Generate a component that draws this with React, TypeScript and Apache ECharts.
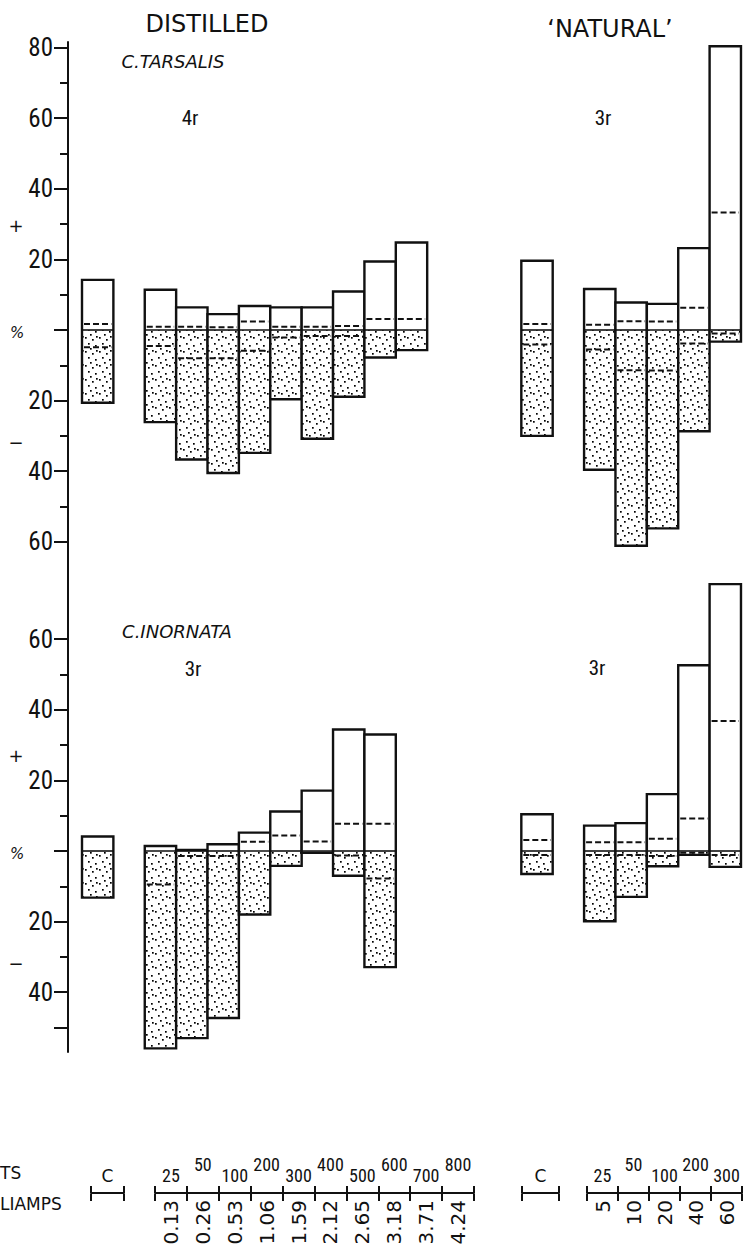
import React, { useEffect, useRef } from 'react';
import * as echarts from 'echarts';

// ---------- key (bottom scales) ----------
const controlLabel = ['C'];
const distilledVolts = ['25', '50', '100', '200', '300', '400', '500', '600', '700', '800'];
const distilledMilliamps = ['0.13', '0.26', '0.53', '1.06', '1.59', '2.12', '2.65', '3.18', '3.71', '4.24'];
const naturalVolts = ['25', '50', '100', '200', '300'];
const naturalMicroamps = ['5', '10', '20', '40', '60'];

// ---------- y axis ticks ----------
const yMajorTop = [80, 60, 40, 20, 0, -20, -40, -60];
const yMinorTop = [70, 50, 30, 10, -10, -30, -50];
const yLabelsTop = [80, 60, 40, 20, -20, -40, -60];
const yMajorBottom = [60, 40, 20, 0, -20, -40, -50];
const yMinorBottom = [50, 30, 10, -10, -30];
const yLabelsBottom = [60, 40, 20, -20, -40];

// ---------- C. tarsalis ----------
// distilled: control + 9 treatments
const tarsalisDistilledUp = [14.2, 11.4, 6.4, 4.5, 6.8, 6.4, 6.4, 10.9, 19.4, 24.8];
const tarsalisDistilledDown = [-20.6, -26.1, -36.7, -40.5, -34.8, -19.6, -30.8, -18.9, -7.8, -5.7];
const tarsalisDistilledUpMean = [1.7, 0.9, 0.9, 0.8, 2.4, 0.9, 0.9, 1.1, 3.1, 3.1];
const tarsalisDistilledDownMean = [-4.9, -4.5, -8.0, -8.0, -5.9, -2.1, -1.7, -1.7, null, null];
// natural: control + 5 treatments
const tarsalisNaturalUp = [19.6, 11.6, 7.8, 7.4, 23.2, 80.4];
const tarsalisNaturalDown = [-30.0, -39.6, -61.1, -56.2, -28.7, -3.3];
const tarsalisNaturalUpMean = [1.7, 1.5, 2.5, 2.4, 6.3, 33.3];
const tarsalisNaturalDownMean = [-4.1, -5.5, -11.4, -11.5, -3.8, -1.0];

// ---------- C. inornata ----------
const inornataDistilledUp = [4.1, 1.4, 0.3, 1.9, 5.2, 11.2, 17.1, 34.4, 33.0];
const inornataDistilledDown = [-13.2, -55.9, -53.0, -47.3, -18.0, -4.2, -0.5, -7.0, -32.9];
const inornataDistilledUpMean = [null, null, null, null, 2.6, 4.4, 2.7, 7.7, 7.7];
const inornataDistilledDownMean = [null, -9.5, -1.4, -1.4, null, null, null, -1.3, -7.8];
const inornataNaturalUp = [10.4, 7.2, 7.9, 16.1, 52.6, 75.6];
const inornataNaturalDown = [-6.5, -19.9, -13.0, -4.3, -1.1, -4.5];
const inornataNaturalUpMean = [3.1, 2.5, 2.5, 3.5, 9.2, 36.8];
const inornataNaturalDownMean = [-1.1, -1.1, -1.1, -1.4, -0.5, -1.1];

const NARROW = '"Liberation Sans Narrow", "Roboto Condensed", "Arial Narrow", "Liberation Sans", sans-serif';
const WIDE = '"DejaVu Sans", "Liberation Sans", sans-serif';
const INK = '#111';

type Row = { slot: number; up: number; down: number; upMean: number | null; downMean: number | null };

function buildRows(up: number[], down: number[], upMean: (number | null)[], downMean: (number | null)[], controlSlot: number): Row[] {
  return up.map((u, i) => ({
    slot: i === 0 ? controlSlot : controlSlot + 1 + i,
    up: u,
    down: down[i],
    upMean: upMean[i],
    downMean: downMean[i],
  }));
}

function makeStipple() {
  const size = 14;
  const c = document.createElement('canvas');
  c.width = size;
  c.height = size;
  const g = c.getContext('2d')!;
  g.fillStyle = '#ffffff';
  g.fillRect(0, 0, size, size);
  g.fillStyle = '#000000';
  const dots = [[1, 1], [8, 3], [4, 7], [11, 9], [6, 12], [12, 0]];
  dots.forEach(([x, y]) => g.fillRect(x, y, 1.7, 1.7));
  return { image: c.toDataURL(), repeat: 'repeat', imageWidth: size, imageHeight: size };
}

function barSeries(rows: Row[], xAxisIndex: number, yAxisIndex: number, stipple: any) {
  return {
    type: 'custom',
    xAxisIndex,
    yAxisIndex,
    clip: false,
    silent: true,
    data: rows.map((r) => [r.slot, r.up, r.down]),
    encode: { x: 0, y: [1, 2] },
    renderItem: (params: any, api: any) => {
      const r = rows[params.dataIndex];
      const [x0, y0] = api.coord([r.slot, 0]);
      const [x1] = api.coord([r.slot + 1, 0]);
      const yUp = api.coord([r.slot, r.up])[1];
      const yDown = api.coord([r.slot, r.down])[1];
      const w = x1 - x0;
      const children: any[] = [
        { type: 'rect', shape: { x: x0, y: yUp, width: w, height: y0 - yUp }, style: { fill: '#fff' } },
        { type: 'rect', shape: { x: x0, y: y0, width: w, height: yDown - y0 }, style: { fill: stipple } },
        { type: 'line', shape: { x1: x0, y1: y0, x2: x1, y2: y0 }, style: { stroke: INK, lineWidth: 1.6 } },
      ];
      [r.upMean, r.downMean].forEach((m) => {
        if (m === null || m === undefined) return;
        const ym = api.coord([r.slot, m])[1];
        children.push({
          type: 'line',
          shape: { x1: x0 + 2, y1: ym, x2: x1 - 2, y2: ym },
          style: { stroke: INK, lineWidth: 2, lineDash: [6, 3] },
        });
      });
      children.push({
        type: 'rect',
        shape: { x: x0, y: yUp, width: w, height: yDown - yUp },
        style: { fill: 'none', stroke: INK, lineWidth: 2.4 },
      });
      return { type: 'group', children };
    },
  };
}

const K = 3.53; // px per percent
const ORIGIN_X = 82;
const SLOT = 31.38;

function keyAxes(gridIndex: number, top: string[], bottom: string[] | null) {
  const topAxis: any = {
    type: 'category',
    gridIndex,
    position: 'top',
    data: top,
    boundaryGap: true,
    axisLine: { show: true, onZero: false, lineStyle: { color: INK, width: 2 } },
    axisTick: { show: true, alignWithLabel: false, interval: 0, length: 7, lineStyle: { color: INK, width: 2 } },
    axisLabel: {
      show: true,
      interval: 0,
      margin: 9,
      color: INK,
      formatter: (v: string, i: number) => (top.length > 1 && i % 2 === 1 ? `{hi|${v}}` : `{lo|${v}}`),
      rich: {
        lo: { fontFamily: top.length > 1 ? NARROW : WIDE, fontSize: top.length > 1 ? 18 : 17, color: INK },
        hi: { fontFamily: NARROW, fontSize: 18, color: INK, padding: [0, 0, 11, 0] },
      },
    },
  };
  const bottomAxis: any = {
    type: 'category',
    gridIndex,
    position: 'bottom',
    data: bottom ?? top,
    boundaryGap: true,
    axisLine: { show: false, onZero: false },
    axisTick: { show: true, alignWithLabel: false, interval: 0, length: 7, lineStyle: { color: INK, width: 2 } },
    axisLabel: {
      show: bottom !== null,
      interval: 0,
      rotate: 90,
      margin: 6,
      color: INK,
      fontFamily: WIDE,
      fontSize: 20,
    },
  };
  return [topAxis, bottomAxis];
}

export default function App() {
  const ref = useRef<HTMLDivElement>(null);

  useEffect(() => {
    if (!ref.current) return;
    const chart = echarts.init(ref.current, undefined, { renderer: 'svg' });
    const stipple = makeStipple();

    const tarsalisDistilled = buildRows(tarsalisDistilledUp, tarsalisDistilledDown, tarsalisDistilledUpMean, tarsalisDistilledDownMean, 0);
    const tarsalisNatural = buildRows(tarsalisNaturalUp, tarsalisNaturalDown, tarsalisNaturalUpMean, tarsalisNaturalDownMean, 14);
    const inornataDistilled = buildRows(inornataDistilledUp, inornataDistilledDown, inornataDistilledUpMean, inornataDistilledDownMean, 0);
    const inornataNatural = buildRows(inornataNaturalUp, inornataNaturalDown, inornataNaturalUpMean, inornataNaturalDownMean, 14);

    const tickStyle = { color: INK, width: 2 };
    const yLabel = {
      color: INK,
      fontFamily: NARROW,
      fontSize: 25,
      margin: 15,
      formatter: (v: number) => String(Math.abs(v)),
    };

    const panelY = (gridIndex: number, major: number[], minor: number[], labels: number[], min: number, max: number) => [
      {
        type: 'value', gridIndex, position: 'left', offset: ORIGIN_X - 68, min, max,
        axisLine: { show: false, onZero: false },
        splitLine: { show: false },
        axisTick: { show: true, length: 14, lineStyle: tickStyle, customValues: major },
        axisLabel: { ...yLabel, customValues: labels },
      },
      {
        type: 'value', gridIndex, position: 'left', offset: ORIGIN_X - 68, min, max,
        axisLine: { show: false, onZero: false },
        splitLine: { show: false },
        axisTick: { show: true, length: 8, lineStyle: tickStyle, customValues: minor },
        axisLabel: { show: false },
      },
    ];

    const hiddenX = (gridIndex: number, min: number, max: number) => ({
      type: 'value', gridIndex, min, max, show: false,
      axisLine: { onZero: false }, splitLine: { show: false },
    });
    const hiddenY = (gridIndex: number) => ({
      type: 'value', gridIndex, min: 0, max: 1, show: false,
      axisLine: { onZero: false }, splitLine: { show: false },
    });

    const [dCtop, dCbot] = keyAxes(3, controlLabel, null);
    const [dTop, dBot] = keyAxes(4, distilledVolts, distilledMilliamps);
    const [nCtop, nCbot] = keyAxes(5, controlLabel, null);
    const [nTop, nBot] = keyAxes(6, naturalVolts, naturalMicroamps);

    const txt = (text: string, x: number, y: number, font: any, align = 'center') => ({
      type: 'text', x, y, silent: true,
      style: { text, fill: INK, align, verticalAlign: 'middle', ...font },
    });

    chart.setOption({
      animation: false,
      backgroundColor: '#fff',
      grid: [
        { left: 68, top: 42, width: 1, height: 1010 },
        { left: ORIGIN_X, top: 330 - 80 * K, width: 21 * SLOT, height: 150 * K },
        { left: ORIGIN_X, top: 851 - 80 * K, width: 21 * SLOT, height: 140 * K },
        { left: 91, top: 1193, width: 33, height: 1 },
        { left: 155, top: 1193, width: 319, height: 1 },
        { left: 522, top: 1193, width: 37, height: 1 },
        { left: 587, top: 1193, width: 155, height: 1 },
      ],
      xAxis: [
        hiddenX(0, 0, 1),
        hiddenX(1, 0, 21),
        hiddenX(2, 0, 21),
        dCtop, dCbot, dTop, dBot, nCtop, nCbot, nTop, nBot,
      ],
      yAxis: [
        {
          type: 'value', gridIndex: 0, min: 0, max: 1, position: 'left',
          axisLine: { show: true, onZero: false, lineStyle: { color: INK, width: 2 } },
          axisTick: { show: false }, axisLabel: { show: false }, splitLine: { show: false },
        },
        ...panelY(1, yMajorTop, yMinorTop, yLabelsTop, -70, 80),
        ...panelY(2, yMajorBottom, yMinorBottom, yLabelsBottom, -60, 80),
        hiddenY(3), hiddenY(4), hiddenY(5), hiddenY(6),
      ],
      series: [
        barSeries(tarsalisDistilled, 1, 1, stipple),
        barSeries(tarsalisNatural, 1, 1, stipple),
        barSeries(inornataDistilled, 2, 3, stipple),
        barSeries(inornataNatural, 2, 3, stipple),
      ],
      graphic: [
        txt('DISTILLED', 207, 24, { fontFamily: WIDE, fontSize: 24 }),
        txt('\u2018NATURAL\u2019', 610, 29, { fontFamily: WIDE, fontSize: 24 }),
        txt('C.TARSALIS', 173, 61, { fontFamily: WIDE, fontSize: 18, fontStyle: 'italic' }),
        txt('4r', 190, 118, { fontFamily: NARROW, fontSize: 21 }),
        txt('3r', 603, 118, { fontFamily: NARROW, fontSize: 21 }),
        txt('C.INORNATA', 177, 631, { fontFamily: WIDE, fontSize: 18, fontStyle: 'italic' }),
        txt('3r', 193, 669, { fontFamily: NARROW, fontSize: 21 }),
        txt('3r', 597, 668, { fontFamily: NARROW, fontSize: 21 }),
        txt('+', 16, 225, { fontFamily: WIDE, fontSize: 18 }),
        txt('\u2212', 16, 442, { fontFamily: WIDE, fontSize: 18 }),
        txt('%', 17, 333, { fontFamily: WIDE, fontSize: 15, fontStyle: 'italic' }),
        txt('+', 16, 755, { fontFamily: WIDE, fontSize: 18 }),
        txt('\u2212', 16, 963, { fontFamily: WIDE, fontSize: 18 }),
        txt('%', 17, 854, { fontFamily: WIDE, fontSize: 15, fontStyle: 'italic' }),
        txt('TS', 0, 1173, { fontFamily: WIDE, fontSize: 17 }, 'left'),
        txt('LIAMPS', 0, 1204, { fontFamily: WIDE, fontSize: 17 }, 'left'),
      ],
    });

    return () => chart.dispose();
  }, []);

  return (
    <div
      ref={ref}
      style={{ position: 'absolute', left: 0, top: 0, width: 744, height: 1253, background: '#fff' }}
    />
  );
}
